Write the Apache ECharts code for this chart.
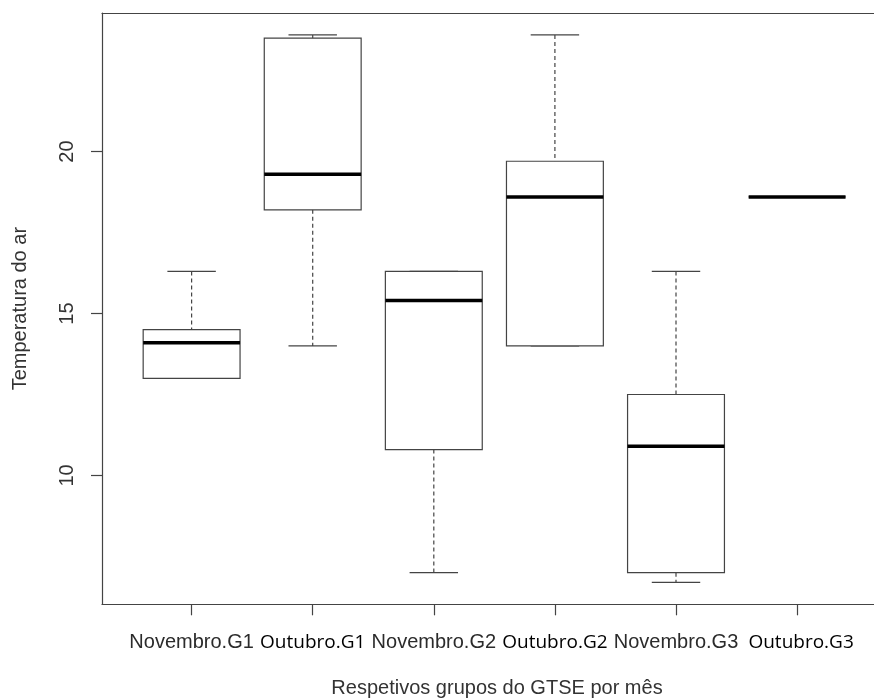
<!DOCTYPE html>
<html>
<head>
<meta charset="utf-8">
<script src="https://cdn.jsdelivr.net/npm/echarts@6/dist/echarts.min.js"></script>
<style>
html,body{margin:0;padding:0;background:#fff;}
#c{width:874px;height:699px;}
</style>
</head>
<body>
<div id="c"></div>
<script>
// ---- data ----
const categories = ['Novembro.G1', 'Outubro.G1', 'Novembro.G2', 'Outubro.G2', 'Novembro.G3', 'Outubro.G3'];
const positions = [1, 2, 3, 4, 5, 6];
const whiskerLow  = [13.0, 14.0, 7.0, 14.0, 6.7, 18.6];
const q1          = [13.0, 18.2, 10.8, 14.0, 7.0, 18.6];
const median      = [14.1, 19.3, 15.4, 18.6, 10.9, 18.6];
const q3          = [14.5, 23.5, 16.3, 19.7, 12.5, 18.6];
const whiskerHigh = [16.3, 23.6, 16.3, 23.6, 16.3, 18.6];
const yTicks = [10, 15, 20];
const yLabel = 'Temperatura do ar';
const xLabel = 'Respetivos grupos do GTSE por mês';

const seriesData = categories.map((c, i) => [positions[i], whiskerLow[i], q1[i], median[i], q3[i], whiskerHigh[i]]);

const BOX_HALF = 0.4, CAP_HALF = 0.2;
const LINE = '#444';

function renderItem(params, api) {
  const x = api.value(0);
  const lo = api.value(1), a = api.value(2), m = api.value(3), b = api.value(4), hi = api.value(5);
  const tl = api.coord([x - BOX_HALF, b]);
  const br = api.coord([x + BOX_HALF, a]);
  const cHi = api.coord([x, hi]), cB = api.coord([x, b]), cA = api.coord([x, a]), cLo = api.coord([x, lo]);
  const capL = api.coord([x - CAP_HALF, hi])[0], capR = api.coord([x + CAP_HALF, hi])[0];
  const mL = api.coord([x - BOX_HALF, m]), mR = api.coord([x + BOX_HALF, m]);
  const dash = {stroke: LINE, lineWidth: 1.2, lineDash: [4, 3], fill: null};
  const solid = {stroke: LINE, lineWidth: 1.2, fill: null};
  return {
    type: 'group',
    children: [
      {type: 'line', shape: {x1: cHi[0], y1: cHi[1], x2: cB[0], y2: cB[1]}, style: dash},
      {type: 'line', shape: {x1: cA[0], y1: cA[1], x2: cLo[0], y2: cLo[1]}, style: dash},
      {type: 'line', shape: {x1: capL, y1: cHi[1], x2: capR, y2: cHi[1]}, style: solid},
      {type: 'line', shape: {x1: capL, y1: cLo[1], x2: capR, y2: cLo[1]}, style: solid},
      {type: 'rect', shape: {x: tl[0], y: tl[1], width: br[0] - tl[0], height: br[1] - tl[1]},
        style: {stroke: LINE, lineWidth: 1.2, fill: '#fff'}},
      {type: 'line', shape: {x1: mL[0], y1: mL[1], x2: mR[0], y2: mR[1]},
        style: {stroke: '#000', lineWidth: 3.5, fill: null}}
    ]
  };
}

const X_MIN = 0.26, X_MAX = 6.635;

const chart = echarts.init(document.getElementById('c'), null, {renderer: 'canvas'});
chart.setOption({
  animation: false,
  backgroundColor: '#fff',
  grid: {
    show: false,
    left: 102, top: 13, right: 0, bottom: 94.7,
    containLabel: false, outerBoundsMode: 'none'
  },
  xAxis: [{
    type: 'value', min: X_MIN, max: X_MAX, position: 'bottom',
    axisLine: {show: true, onZero: false, lineStyle: {color: LINE, width: 1.2}},
    splitLine: {show: false},
    axisTick: {show: true, customValues: positions, length: 11, lineStyle: {color: LINE, width: 1.2}},
    axisLabel: {
      customValues: positions, margin: 28, hideOverlap: false, showMinLabel: true, showMaxLabel: true,
      formatter: function (v) {
        const name = categories[Math.round(v) - 1];
        if (name.indexOf('Outubro') === 0) return (Math.round(v) === 6 ? '{o2|' : '{o|') + name + '}';
        return '{n|' + name + '}';
      },
      rich: {
        n: {fontFamily: 'Liberation Sans', fontSize: 20, color: '#2b2b2b', lineHeight: 20},
        o: {fontFamily: 'Open Sans', fontSize: 19, color: '#000', lineHeight: 20},
        o2: {fontFamily: 'Open Sans', fontSize: 19, color: '#000', lineHeight: 20, padding: [0, 0, 0, 8]}
      }
    },
    name: xLabel, nameLocation: 'middle', nameGap: 74,
    nameTextStyle: {fontFamily: 'Liberation Sans', fontSize: 20, color: '#333', lineHeight: 20, padding: [0, 0, 0, 18]}
  }, {
    type: 'value', min: X_MIN, max: X_MAX, position: 'top',
    axisLine: {show: true, onZero: false, lineStyle: {color: LINE, width: 1.2}},
    splitLine: {show: false}, axisTick: {show: false}, axisLabel: {show: false}
  }],
  yAxis: {
    type: 'value', min: 6.024, max: 24.276,
    axisLine: {show: true, onZero: false, lineStyle: {color: LINE, width: 1.2}},
    splitLine: {show: false},
    axisTick: {show: true, customValues: yTicks, length: 11, lineStyle: {color: LINE, width: 1.2}},
    axisLabel: {
      customValues: yTicks, rotate: 90, margin: 25,
      fontFamily: 'Liberation Sans', fontSize: 20, color: '#333', lineHeight: 20
    },
    name: yLabel, nameLocation: 'middle', nameGap: 72, nameRotate: 90,
    nameTextStyle: {fontFamily: 'Liberation Sans', fontSize: 20, color: '#333', lineHeight: 20}
  },
  series: [{
    type: 'custom',
    xAxisIndex: 0,
    renderItem: renderItem,
    data: seriesData,
    encode: {x: 0, y: [1, 2, 3, 4, 5]},
    clip: false
  }]
});
</script>
</body>
</html>
